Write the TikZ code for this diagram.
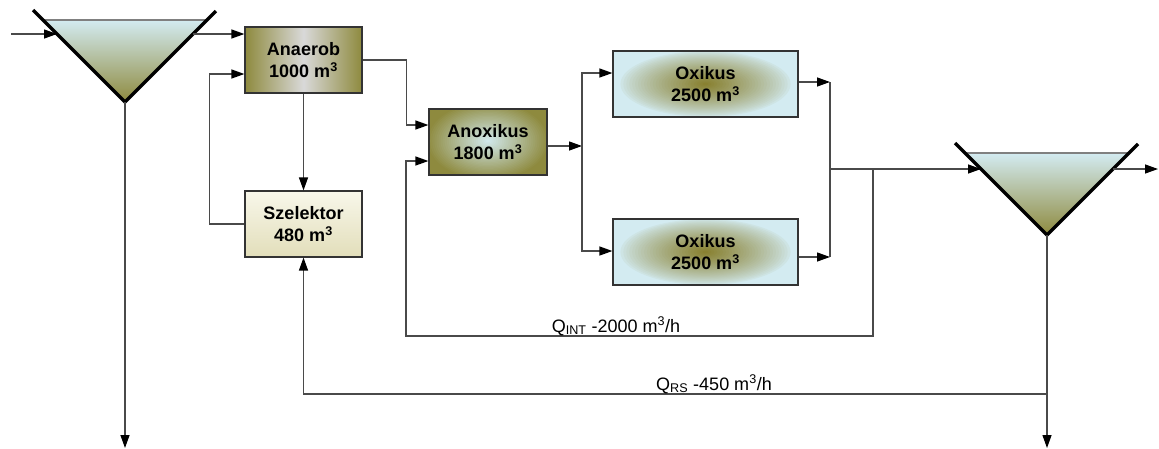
\documentclass[tikz,border=0pt]{standalone}
\usepackage{fontspec}
\setmainfont{Liberation Sans}
\usetikzlibrary{arrows.meta,calc}
\definecolor{olv}{HTML}{8E8A3E}
\definecolor{olvd}{HTML}{877E2C}
\definecolor{cyn}{HTML}{D3EBF1}
\definecolor{lgray}{HTML}{D9D9D9}
\definecolor{szt}{HTML}{F8F7EA}
\definecolor{szb}{HTML}{E2DEBA}
\definecolor{lncol}{HTML}{4A4A4A}
\begin{document}
\begin{tikzpicture}[x=1pt,y=-1pt,
  box/.style={draw=black!80,line width=1.2pt,minimum width=117pt,minimum height=66pt,inner sep=0pt,align=center,font=\fontsize{18}{22}\selectfont\bfseries},
  ln/.style={draw=lncol,line width=1.3pt},
  arr/.style={ln,-{Triangle[length=13pt,width=9pt,color=black]}},
  wall/.style={line width=3.5pt,black},
  surf/.style={line width=2pt,draw=gray},
  lbl/.style={font=\fontsize{18}{22}\selectfont,inner sep=0pt}]
\useasboundingbox (0,0) rectangle (1159,448);
% left clarifier
\shade[top color=cyn,bottom color=olv] (43,20) -- (207,20) -- (125,102) -- cycle;
\draw[surf] (43,20) -- (207,20);
\draw[wall] (33,10) -- (125,102) -- (216,11);
% right clarifier
\shade[top color=cyn,bottom color=olv] (965,153) -- (1128,153) -- (1047,235) -- cycle;
\draw[surf] (965,153) -- (1128,153);
\draw[wall] (955,143) -- (1047,235) -- (1138,144);
% radial backgrounds (Anoxikus: light centre, olive edge)
\begin{scope}
\clip (429,109) rectangle (547,175);
\fill[olv] (429,109) rectangle (547,175);
\foreach \i in {0,...,29}{
  \pgfmathsetmacro\f{1-\i/30}
  \pgfmathsetmacro\p{100*\f}
  \fill[olv!\p!cyn] (488,141) ellipse [x radius=\f*62, y radius=\f*40];
}
\end{scope}
% Oxikus backgrounds: olive centre, cyan edge
\foreach \cy in {84,252}{
\begin{scope}
\clip (613,\cy-33) rectangle (798,\cy+33);
\fill[cyn] (613,\cy-33) rectangle (798,\cy+33);
\foreach \i in {0,...,29}{
  \pgfmathsetmacro\f{1-\i/30}
  \pgfmathsetmacro\p{100*(1-\f)^0.8}
  \fill[olvd!\p!cyn] (705.5,\cy) ellipse [x radius=\f*88, y radius=\f*34];
}
\end{scope}
}
% boxes
\node[box,left color=olv,right color=olv,middle color=lgray] (ana) at (303.5,60) {Anaerob\\1000 m\textsuperscript{3}};
\node[box,top color=szt,bottom color=szb] (sz) at (303.5,224) {Szelektor\\480 m\textsuperscript{3}};
\node[box,minimum width=118pt] (anox) at (488,142) {Anoxikus\\1800 m\textsuperscript{3}};
\node[box,minimum width=185pt] (ox1) at (705.5,84) {Oxikus\\2500 m\textsuperscript{3}};
\node[box,minimum width=185pt] (ox2) at (705.5,252) {Oxikus\\2500 m\textsuperscript{3}};
% coordinates
\coordinate (src) at (11,34);
\coordinate (c1l) at (57,34);
\coordinate (c1r) at (193,34);
\coordinate (c1t) at (125,102);
\coordinate (w1) at (125,448);
\coordinate (sp) at (582,146);
\coordinate (m1) at (830,82);
\coordinate (m2) at (830,257);
\coordinate (mj) at (830,169);
\coordinate (rj) at (873,169);
\coordinate (rq) at (873,336);
\coordinate (rb) at (406,336);
\coordinate (c2l) at (981,169);
\coordinate (c2r) at (1113,169);
\coordinate (eff) at (1158,169);
\coordinate (c2t) at (1047,235);
\coordinate (w2) at (1047,448);
\coordinate (rs) at (1047,394);
% connectors
\draw[arr] (src) -- (c1l);
\draw[arr] (c1r) -- (c1r -| ana.west);
\draw[arr] (c1t) -- (w1);
\draw[arr] (sz.west) -- ++(-35,0) |- ([yshift=-14pt]ana.west);
\draw[arr] (ana.south) -- (sz.north);
\draw[arr] (ana.east) -- ++(44,0) |- ([yshift=17pt]anox.west);
\draw[arr] ([yshift=-4pt]anox.east) -- (sp);
\draw[arr] (sp) |- ([yshift=11pt]ox1.west);
\draw[arr] (sp) |- ([yshift=1pt]ox2.west);
\draw[arr] ([yshift=2pt]ox1.east) -- (m1);
\draw[arr] ([yshift=-5pt]ox2.east) -- (m2);
\draw[ln] (m1) -- (m2);
\draw[arr] (mj) -- (c2l);
\draw[arr] (rj) -- (rq) -- (rb) |- ([yshift=-19pt]anox.west);
\draw[arr] (c2r) -- (eff);
\draw[arr] (c2t) -- (w2);
\draw[arr] (rs) -| (sz.south);
% labels
\node[lbl,anchor=base] (qint) at (616,332) {Q\textsubscript{INT} -2000 m\textsuperscript{3}/h};
\node[lbl,anchor=base] (qrs) at (714,390) {Q\textsubscript{RS} -450 m\textsuperscript{3}/h};
\end{tikzpicture}
\end{document}
